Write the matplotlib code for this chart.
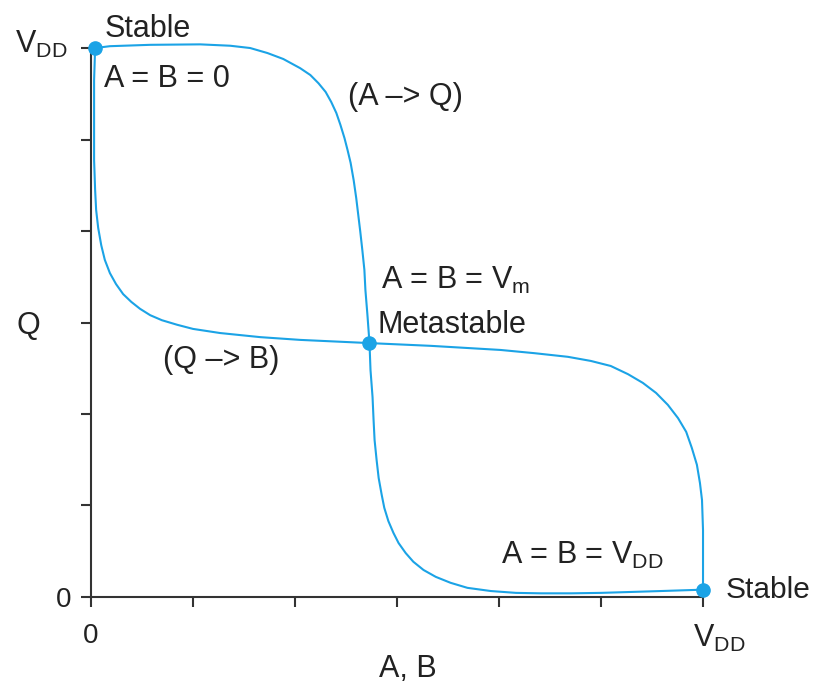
import matplotlib
matplotlib.use("Agg")
import matplotlib.pyplot as plt
from matplotlib.transforms import ScaledTranslation

plt.rcParams['font.family'] = ['Liberation Sans', 'DejaVu Sans']
plt.rcParams['mathtext.fontset'] = 'custom'
plt.rcParams['mathtext.rm'] = 'Liberation Sans'
plt.rcParams['mathtext.it'] = 'Liberation Sans'

VDD = 1.2

# inverter 1: A -> Q
a_in = [0.008, 0.037, 0.116, 0.214, 0.273, 0.312, 0.346, 0.377, 0.410, 0.430,
        0.446, 0.460, 0.471, 0.481, 0.489, 0.497, 0.503, 0.509, 0.515, 0.520,
        0.524, 0.528, 0.532, 0.536, 0.538, 0.542, 0.546,
        0.548, 0.552, 0.554, 0.556, 0.560, 0.564, 0.570, 0.575, 0.583, 0.593,
        0.603, 0.617, 0.632, 0.652, 0.676, 0.705, 0.738, 0.784, 0.833, 0.882,
        0.941, 1.000, 1.059, 1.117, 1.200]
q_out = [1.200, 1.204, 1.207, 1.208, 1.205, 1.200, 1.189, 1.176, 1.156, 1.141,
         1.123, 1.104, 1.082, 1.058, 1.032, 1.003, 0.977, 0.949, 0.911, 0.872,
         0.835, 0.798, 0.758, 0.715, 0.671, 0.616, 0.555,
         0.496, 0.437, 0.387, 0.343, 0.299, 0.260, 0.223, 0.195, 0.166, 0.140,
         0.118, 0.096, 0.077, 0.059, 0.044, 0.031, 0.020, 0.013, 0.009, 0.008,
         0.008, 0.009, 0.011, 0.013, 0.016]

# inverter 2: Q -> B (drawn with B on the x axis)
b_out = [0.008, 0.006, 0.006, 0.006, 0.008, 0.010, 0.014, 0.020, 0.027, 0.037,
         0.049, 0.063, 0.079, 0.096, 0.116, 0.139, 0.169, 0.200, 0.253, 0.332,
         0.410, 0.546, 0.666, 0.803, 0.869, 0.935, 0.980, 1.019, 1.053, 1.082,
         1.108, 1.131, 1.151, 1.167, 1.178, 1.188, 1.194, 1.198, 1.200, 1.200]
q_in = [1.200, 1.130, 1.043, 0.955, 0.890, 0.846, 0.807, 0.769, 0.737, 0.708,
        0.684, 0.662, 0.645, 0.630, 0.616, 0.605, 0.595, 0.586, 0.577, 0.568,
        0.562, 0.555, 0.549, 0.540, 0.533, 0.525, 0.516, 0.505, 0.487, 0.468,
        0.446, 0.420, 0.391, 0.361, 0.326, 0.289, 0.249, 0.212, 0.146, 0.016]

# operating points: stable, metastable, stable
op_x = [0.008, 0.546, 1.200]
op_y = [1.200, 0.555, 0.016]

ticks = [0, 0.2, 0.4, 0.6, 0.8, 1.0, 1.2]
tick_labels = ['0', '', '', '', '', '', r'V$_{\mathrm{DD}}$']

blue = '#1ba3e6'
ink = '#222222'

fig = plt.figure(figsize=(8.15, 6.92), dpi=100)
ax = fig.add_axes([0.1117, 0.1373, 0.7509, 0.7933])

ax.plot(a_in, q_out, color=blue, lw=1.5, clip_on=False, zorder=3)
ax.plot(b_out, q_in, color=blue, lw=1.5, clip_on=False, zorder=3)
ax.plot(op_x, op_y, 'o', color=blue, ms=9.5, clip_on=False, zorder=4)

ax.set_xlim(0, VDD)
ax.set_ylim(0, VDD)
ax.set_xticks(ticks)
ax.set_yticks(ticks)
ax.set_xticklabels(tick_labels)
ax.set_yticklabels(tick_labels)
ax.tick_params(axis='both', direction='out', length=7.5, width=1.5,
               color='#333333', labelcolor=ink)
ax.tick_params(axis='y', pad=7, labelsize=20)
ax.tick_params(axis='x', pad=11, labelsize=20)
for side in ['top', 'right']:
    ax.spines[side].set_visible(False)
for side in ['left', 'bottom']:
    ax.spines[side].set_linewidth(1.5)
    ax.spines[side].set_color('#333333')

# the V_DD tick labels sit a little off their ticks
ylabs = ax.get_yticklabels()
ylabs[-1].set_fontsize(22)
ylabs[-1].set_transform(ylabs[-1].get_transform()
                        + ScaledTranslation(-0.03, 0.07, fig.dpi_scale_trans))
xlabs = ax.get_xticklabels()
xlabs[-1].set_fontsize(22)
xlabs[-1].set_transform(xlabs[-1].get_transform()
                        + ScaledTranslation(0.16, 0, fig.dpi_scale_trans))

fig.text(408 / 815, 1 - 677 / 692, 'A, B', fontsize=22, color=ink,
         ha='center', va='baseline')
fig.text(28 / 815, 1 - 334 / 692, 'Q', fontsize=22, color=ink,
         ha='center', va='baseline')

fs = 22
ax.text(0.026, 1.224, 'Stable', fontsize=fs, color=ink, clip_on=False)
ax.text(0.026, 1.115, 'A = B = 0', fontsize=fs, color=ink)
ax.text(0.503, 1.075, '(A –> Q)', fontsize=fs, color=ink)
ax.text(0.568, 0.673, r'A = B = V$_{\mathrm{m}}$', fontsize=fs, color=ink)
ax.text(0.562, 0.577, 'Metastable', fontsize=fs, color=ink)
ax.text(0.141, 0.500, '(Q –> B)', fontsize=fs, color=ink)
ax.text(0.803, 0.072, r'A = B = V$_{\mathrm{DD}}$', fontsize=fs, color=ink)
ax.text(1.245, -0.002, 'Stable', fontsize=21.5, color=ink, clip_on=False)

fig.savefig('out.png', dpi=100)
